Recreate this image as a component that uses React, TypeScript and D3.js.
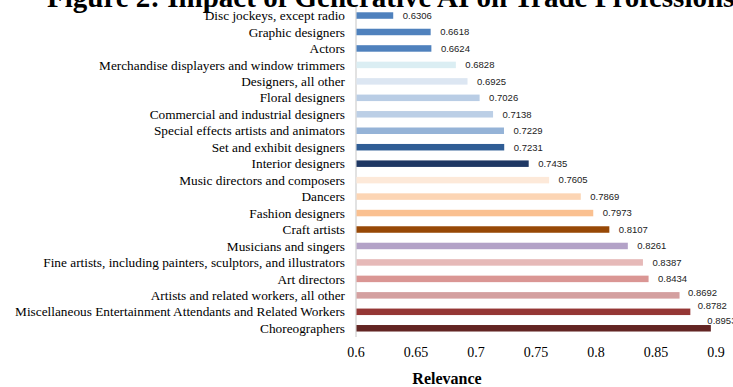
import React from "react";
import * as d3 from "d3";

const categories = [
  "Disc jockeys, except radio",
  "Graphic designers",
  "Actors",
  "Merchandise displayers and window trimmers",
  "Designers, all other",
  "Floral designers",
  "Commercial and industrial designers",
  "Special effects artists and animators",
  "Set and exhibit designers",
  "Interior designers",
  "Music directors and composers",
  "Dancers",
  "Fashion designers",
  "Craft artists",
  "Musicians and singers",
  "Fine artists, including painters, sculptors, and illustrators",
  "Art directors",
  "Artists and related workers, all other",
  "Miscellaneous Entertainment Attendants and Related Workers",
  "Choreographers",
];

const values = [
  0.6306, 0.6618, 0.6624, 0.6828, 0.6925, 0.7026, 0.7138, 0.7229, 0.7231, 0.7435,
  0.7605, 0.7869, 0.7973, 0.8107, 0.8261, 0.8387, 0.8434, 0.8692, 0.8782, 0.8953,
];

const barColors = [
  "#4f81bd", "#4f81bd", "#4f81bd", "#dbeef3", "#dce6f2", "#b9cde5", "#bccfe6", "#95b3d7", "#2f5d95", "#1f3864",
  "#fde9d9", "#fcd5b4", "#fac090", "#974806", "#b3a2c7", "#e6b9b8", "#da9694", "#d4a0a0", "#953735", "#632523",
];

const xTicks = [0.6, 0.65, 0.7, 0.75, 0.8, 0.85, 0.9];

// label placement nudges (style only)
const labelDx = [10, 10, 10, 10, 10, 10, 10, 10, 10, 10, 10, 10, 10, 10, 10, 10, 10, 9, 8, -3];
const labelDy = [0, 0, 0, 0, 0, 0, 0, 0, 0, 0, 0, 0, 0, 0, 0, 0, 0, -3, -6, -8];

export default function App() {
  const W = 733, H = 387;
  const x = d3.scaleLinear().domain([0.6, 0.9]).range([356, 716]);
  const y = d3.scaleBand<string>().domain(categories).range([7.3, 336.5]).paddingInner(0.6).paddingOuter(0.3);
  const bh = 6.5;
  const serif = "'Liberation Serif', 'Times New Roman', serif";
  const sans = "'Liberation Sans', Arial, sans-serif";
  return (
    <svg width={W} height={H} style={{ position: "absolute", left: 0, top: 0, background: "#fff" }}>
      <rect width={W} height={H} fill="#fff" />
      <text x={47} y={6.5} fontFamily={serif} fontWeight="bold" fontSize={29} fill="#000">
        Figure 2: Impact of Generative AI on Trade Professions
      </text>
      <line x1={356} x2={356} y1={7} y2={337} stroke="#d9d9d9" strokeWidth={1.5} />
      {categories.map((c, i) => {
        const cy = (y(c) as number) + y.bandwidth() / 2;
        return (
          <g key={c}>
            <text x={345} y={cy} dy="0.35em" textAnchor="end" fontFamily={serif} fontSize={13.3} fill="#000">
              {c}
            </text>
            <rect x={x(0.6) + 0.5} y={cy - bh / 2} width={x(values[i]) - x(0.6)} height={bh} fill={barColors[i]} />
            <text x={x(values[i]) + labelDx[i]} y={cy + labelDy[i]} dy="0.35em" fontFamily={sans} fontSize={9.5} fill="#222">
              {values[i].toFixed(4)}
            </text>
          </g>
        );
      })}
      {xTicks.map((t) => (
        <text key={t} x={x(t)} y={352} dy="0.35em" textAnchor="middle" fontFamily={serif} fontSize={14} fill="#000">
          {String(t)}
        </text>
      ))}
      <text x={447} y={378.5} dy="0.35em" textAnchor="middle" fontFamily={serif} fontWeight="bold" fontSize={16} fill="#000">
        Relevance
      </text>
    </svg>
  );
}
